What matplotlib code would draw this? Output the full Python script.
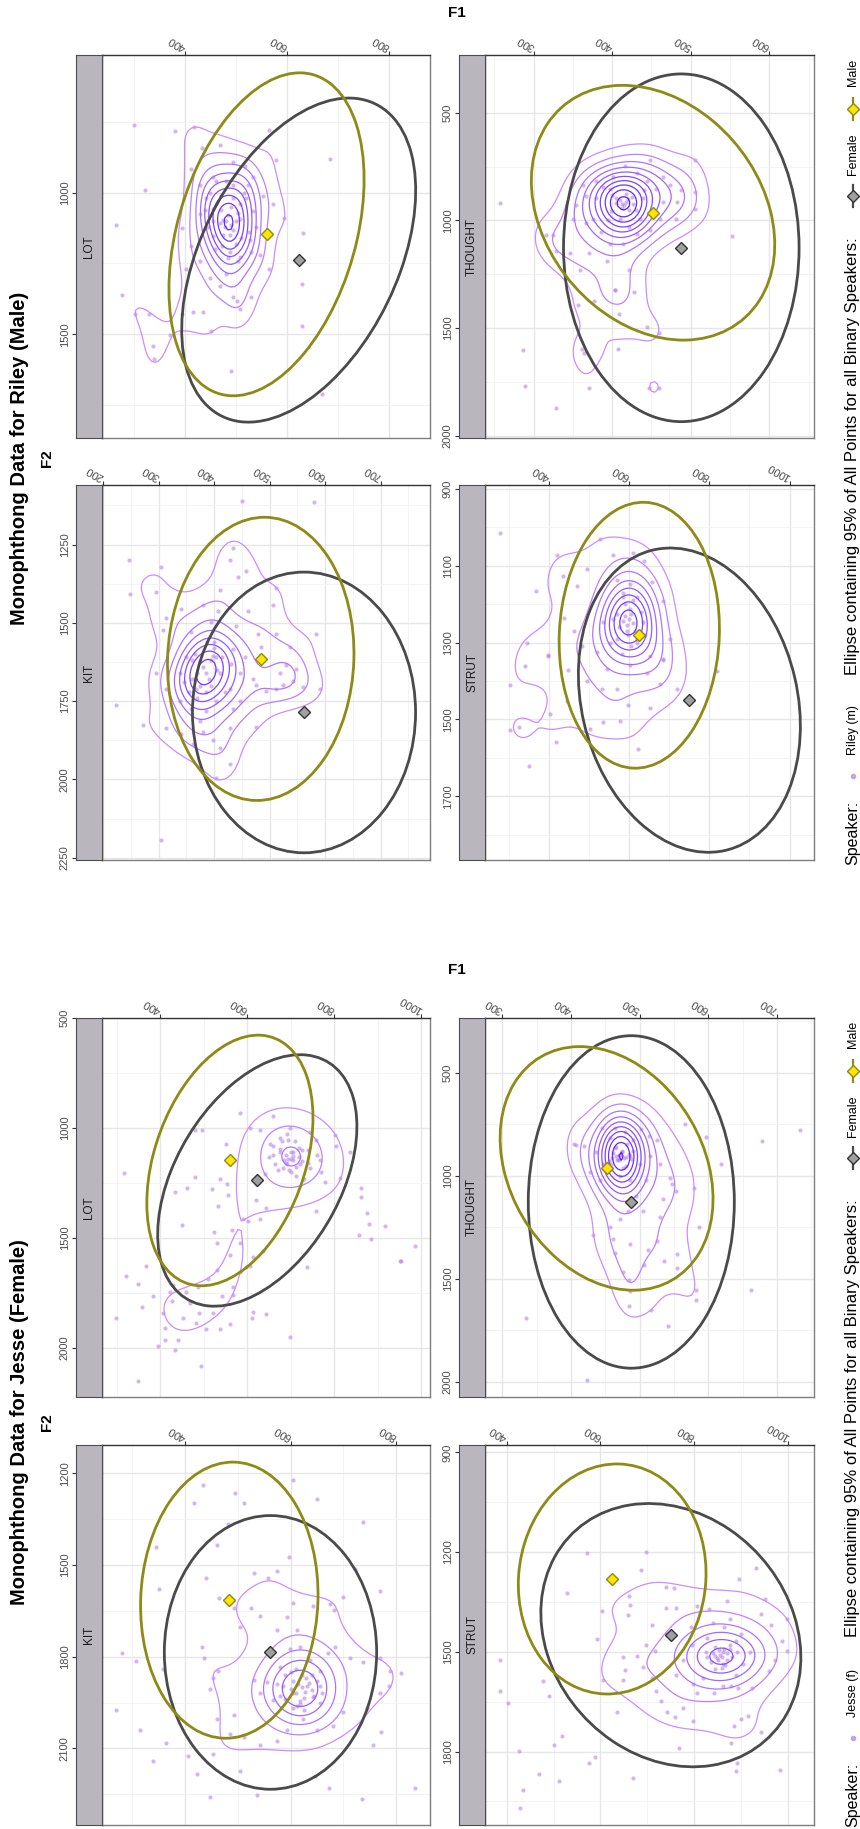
import numpy as np
import matplotlib
matplotlib.use('Agg')
import matplotlib.pyplot as plt
from matplotlib.patches import Ellipse
from matplotlib.colors import LinearSegmentedColormap, Normalize
from matplotlib.ticker import MaxNLocator
from matplotlib.lines import Line2D

plt.rcParams['font.family'] = ['Liberation Sans', 'DejaVu Sans']

# ---------------- data ----------------
speakers = ['Riley (m)', 'Jesse (f)']
titles = ['Monophthong Data for Riley (Male)', 'Monophthong Data for Jesse (Female)']
vowels = ['KIT', 'LOT', 'STRUT', 'THOUGHT']

# binary-speaker reference means (diamonds) and 95% ellipse spreads, order = vowels
male_mean_f1 = [484, 560, 625, 452]
male_mean_f2 = [1615, 1147, 1281, 964]
female_mean_f1 = [562, 623, 750, 488]
female_mean_f2 = [1786, 1238, 1450, 1127]
male_ell_f1_half = [168, 191, 200, 155]
male_ell_f2_half = [452, 570, 346, 592]
male_ell_corr = [-0.04, -0.34, -0.05, 0.25]
female_ell_f1_half = [201, 229, 277, 150]
female_ell_f2_half = [448, 572, 396, 808]
female_ell_corr = [0.0, -0.43, 0.17, 0.0]

# tick labels per speaker / vowel
riley_f1_ticks = {'KIT': [200, 300, 400, 500, 600, 700], 'LOT': [400, 600, 800],
                  'STRUT': [400, 600, 800, 1000], 'THOUGHT': [300, 400, 500, 600]}
riley_f2_ticks = {'KIT': [1250, 1500, 1750, 2000, 2250], 'LOT': [1000, 1500],
                  'STRUT': [900, 1100, 1300, 1500, 1700], 'THOUGHT': [500, 1000, 1500, 2000]}
jesse_f1_ticks = {'KIT': [400, 600, 800], 'LOT': [400, 600, 800, 1000],
                  'STRUT': [400, 600, 800, 1000], 'THOUGHT': [300, 400, 500, 600, 700]}
jesse_f2_ticks = {'KIT': [1200, 1500, 1800, 2100], 'LOT': [500, 1000, 1500, 2000],
                  'STRUT': [900, 1200, 1500, 1800], 'THOUGHT': [500, 1000, 1500, 2000]}

# speaker tokens (F1, F2)
riley_lot = [(300,761),(380,783),(418,769),(266,1115),(322,991),(278,1360),(302,1427),(330,1427),
    (337,1543),(340,1586),(371,1501),(394,1125),(429,973),(412,917),(434,843),(468,832),(490,1630),
    (495,1367),(502,1382),(508,1412),(529,1367),(565,777),(579,884),(632,1144),(629,1323),(629,1472),
    (684,882),(669,1711),(594,1089),(573,1040),(565,1271),(548,1219),(452,1490),(455,1059),(481,1099),
    (491,1114),(508,1040),(524,973),(534,943),(517,907),(495,892),(462,959),(442,1018),(429,1077),
    (455,1152),(472,1189),(488,1211),(508,1226),(527,1167),(481,1286),(468,1330),(449,1301),(429,1241),
    (413,1189),(403,1271),(416,1420),(394,1427),(436,1420),(508,1092),(495,1018),(534,1063),(553,1011),
    (455,944),(495,973),(468,1107),(485,1080),(478,1120),(495,1130),(470,1060),(500,1100),(488,1150),
    (475,1095),(505,1070),(450,1000),(470,1010),(520,1020),(540,1120),(445,1120),(460,1200),(500,1180),
    (530,1210),(515,1000),(480,960),(505,1240),(440,1060),(525,1140),(485,1230),(455,1100),(510,1160),
    (490,1050),(475,1150)]
riley_kit = [(246,1299),(304,1321),(248,1409),(296,1402),(434,1260),(450,1112),(580,1115),(428,1300),
    (443,1355),(458,1334),(410,1395),(380,1443),(341,1456),(314,1483),(395,1496),(440,1510),(461,1463),
    (479,1537),(506,1443),(512,1388),(511,1537),(584,1537),(536,1578),(485,1578),(434,1585),(398,1605),
    (308,1523),(359,1530),(407,1463),(224,1761),(272,1825),(304,2193),(296,1660),(314,1710),(338,1660),
    (338,1749),(359,1774),(374,1812),(380,1850),(398,1875),(410,1901),(428,1837),(434,1774),(446,1749),
    (476,1698),(476,1831),(494,1717),(512,1710),(524,1698),(542,1685),(560,1704),(590,1710),(530,1634),
    (548,1647),(518,1660),(374,1622),(386,1660),(404,1609),(350,1609),(368,1710),(404,1749),(428,1710),
    (446,1660),(314,1837),(341,1856),(362,1888),(428,1951),(404,1996),(380,1640),(390,1680),(375,1700),
    (395,1620),(370,1660),(405,1650),(385,1720),(365,1600),(400,1580),(415,1610),(360,1680),(388,1560),
    (360,1620),(395,1700),(410,1660),(370,1740),(345,1690),(420,1720),(400,1560),(430,1630),(385,1780),
    (355,1720),(455,1610),(470,1680)]
riley_thought = [(257,919),(286,1603),(289,1771),(329,1873),(316,1067),(324,1067),(329,1143),(357,1394),
    (377,1374),(362,1599),(364,1615),(370,1779),(407,1599),(409,1433),(404,1325),(428,1331),(444,1496),
    (460,1521),(447,1779),(460,1779),(505,719),(505,866),(506,948),(481,993),(487,860),(553,1071),
    (354,930),(367,885),(380,895),(388,846),(401,797),(416,748),(431,778),(444,817),(456,856),(465,915),
    (461,993),(448,1042),(435,993),(422,1032),(410,993),(399,954),(405,895),(418,876),(427,924),(412,924),
    (431,1061),(414,1110),(397,1110),(386,1052),(376,993),(367,1012),(393,1188),(404,1321),(422,1228),
    (371,1149),(380,817),(363,836),(439,895),(397,856),(448,719),(465,797),(473,836),(482,915),(350,993),
    (346,1149),(359,1228),(418,915),(420,900),(415,930),(410,905),(425,890),(412,940),(422,950),(405,920),
    (430,950),(400,880),(440,860),(395,1000)]
riley_strut = [(278,1014),(368,1167),(434,1128),(419,1071),(469,1154),(494,1108),(527,1030),(559,1071),
    (610,1066),(637,1088),(656,1143),(685,1192),(702,1291),(685,1346),(652,1335),(602,1148),(585,1181),
    (569,1225),(594,1269),(619,1302),(635,1247),(602,1214),(552,1302),(535,1247),(519,1324),(481,1308),
    (436,1236),(461,1269),(398,1335),(344,1302),(569,1137),(619,1181),(581,1330),(339,1361),(303,1411),
    (302,1527),(326,1520),(351,1622),(398,1333),(417,1560),(446,1372),(402,1485),(444,1452),(502,1524),
    (535,1507),(577,1504),(597,1462),(622,1576),(652,1471),(677,1409),(718,1421),(685,1344),(644,1380),
    (602,1359),(569,1421),(531,1421),(494,1400),(544,1370),(820,1375),(600,1240),(605,1225),(595,1255),
    (610,1250),(590,1230),(615,1270),(598,1280),(585,1245),(590,1200),(620,1290),(575,1260),(630,1220),
    (605,1310),(560,1240),(640,1280),(585,1170),(610,1190),(570,1290)]
jesse_lot = [(316,1202),(583,933),(480,1010),(497,1010),(552,1073),(480,1221),(434,1292),(461,1274),
    (518,1279),(537,1231),(553,1253),(555,1303),(533,1353),(451,1441),(523,1472),(565,1463),(583,1522),
    (602,1424),(629,1415),(621,1253),(606,1001),(652,1073),(675,1046),(692,1028),(706,1109),(721,1163),
    (683,1181),(713,1217),(744,1181),(767,1145),(804,1082),(836,1109),(813,1226),(779,1244),(759,1378),
    (861,1274),(861,1315),(875,1387),(880,1438),(856,1486),(884,1505),(916,1447),(985,1535),(953,1603),
    (738,1630),(694,1055),(706,1145),(691,1163),(675,1109),(725,1100),(698,1001),(664,1163),(660,947),
    (629,1010),(744,1019),(759,1055),(802,1033),(621,1325),(644,1361),(591,1415),(637,1558),(614,1585),
    (598,1630),(560,1576),(530,1522),(299,1864),(348,2149),(366,1629),(321,1674),(348,1709),(359,1813),
    (383,1763),(406,1839),(411,1909),(395,1990),(411,1965),(434,2010),(440,1965),(453,1864),(426,1788),
    (468,1797),(483,1886),(489,1842),(506,1914),(522,1839),(537,1914),(560,1889),(541,1763),(568,1758),
    (610,1864),(614,1835),(644,1847),(493,2082),(698,1951),(951,1604),(422,1746),(430,1713),(460,1746),
    (487,1721),(510,1688),(530,1646),(568,1721),(583,1654),(606,1629),(660,1080),(690,1120),(720,1090),
    (740,1160),(700,1200),(670,1190),(650,1130),(760,1120),(730,1230),(680,1060),(710,1060),(640,1210),
    (770,1200),(700,1140),(690,1160),(720,1130),(694,1140),(705,1125),(700,1110),(685,1145),(712,1175),
    (675,1095),(725,1150),(695,1190),(660,1120),(740,1100)]
jesse_kit = [(435,1237),(495,1263),(417,1297),(511,1298),(605,1221),(651,1285),(481,1366),(738,1360),
    (346,1440),(461,1434),(597,1473),(350,1577),(439,1542),(574,1518),(558,1542),(530,1527),(465,1608),
    (722,1514),(770,1585),(700,1605),(675,1627),(682,1648),(643,1635),(605,1623),(594,1669),(492,1642),
    (504,1702),(526,1639),(542,1666),(574,1714),(612,1714),(432,1768),(436,1805),(308,1813),(281,1789),
    (359,1839),(463,1847),(454,1871),(448,1907),(460,2004),(492,1992),(530,1877),(555,1883),(580,1835),
    (599,1774),(618,1768),(636,1811),(655,1847),(671,1787),(684,1768),(713,1805),(738,1817),(770,1805),
    (789,1847),(809,1853),(786,1895),(770,1919),(744,1967),(700,1980),(681,2028),(650,2040),(624,2004),
    (605,1967),(594,2040),(574,2076),(542,2089),(511,2064),(485,2052),(454,2119),(422,2185),(406,2125),
    (365,2083),(340,2143),(315,2040),(270,1974),(447,2258),(536,2252),(735,2266),(836,2231),(672,2231),
    (647,2191),(504,2173),(757,2089),(772,2046),(621,1859),(631,1895),(643,1931),(605,1919),(618,1956),
    (655,1895),(586,1895),(567,1943),(542,1919),(621,1900),(615,1890),(628,1915),(610,1920),(635,1885),
    (625,1935),(605,1880),(640,1910),(618,1945),(600,1905),(645,1930),(630,1870),(590,1860),(650,1880),
    (612,1960),(580,1930),(600,1850),(640,1860),(660,1920),(590,1940),(625,1975),(610,1840),(655,1950),
    (575,1890)]
jesse_thought = [(404,847),(408,851),(419,857),(446,766),(464,769),(479,789),(502,773),(514,808),
    (530,942),(545,1009),(547,1038),(553,1073),(579,1057),(587,1250),(555,1381),(526,1317),(512,1360),
    (486,1333),(464,1375),(461,1308),(457,1250),(432,1288),(471,1212),(483,1173),(495,1096),(505,1173),
    (534,1115),(530,1202),(566,750),(597,812),(619,942),(678,833),(733,779),(467,923),(476,961),(459,942),
    (464,865),(482,846),(486,904),(472,1000),(501,942),(447,942),(437,884),(442,1019),(486,1019),(510,1019),
    (491,827),(457,817),(428,981),(515,904),(525,827),(335,1689),(423,1992),(476,1468),(485,1508),
    (485,1635),(517,1651),(541,1729),(555,1450),(582,1554),(582,1603),(663,1554),(486,1558),(506,1432),
    (535,1414),(470,900),(475,880),(468,920),(480,910),(462,890),(472,900),(478,915),(466,905),(484,895),
    (470,925),(460,915),(488,920),(475,885),(490,880),(455,930),(480,950),(465,860)]
jesse_strut = [(698,1199),(572,1204),(686,1255),(528,1322),(739,1305),(756,1308),(661,1332),(663,1358),
    (658,1389),(604,1377),(593,1463),(710,1420),(739,1369),(760,1369),(805,1363),(831,1371),(870,1347),
    (896,1280),(931,1249),(950,1341),(942,1386),(964,1419),(998,1400),(997,1499),(986,1469),(972,1524),
    (960,1558),(923,1608),(893,1608),(879,1602),(884,1724),(878,1774),(888,1858),(891,1836),(983,1856),
    (942,1741),(914,1693),(900,1702),(797,1708),(767,1789),(670,1880),(636,1680),(606,1586),(647,1586),
    (652,1555),(648,1517),(677,1513),(691,1546),(709,1580),(719,1619),(730,1647),(741,1680),(758,1697),
    (776,1669),(797,1597),(818,1580),(843,1552),(861,1536),(875,1491),(889,1469),(900,1447),(918,1502),
    (904,1536),(889,1569),(864,1491),(843,1513),(825,1502),(864,1424),(827,1458),(796,1480),(775,1524),
    (760,1569),(805,1624),(841,1624),(861,1602),(793,1424),(839,1413),(876,1402),(741,1447),(716,1497),
    (698,1480),(386,1524),(386,1617),(402,1654),(426,1797),(434,1916),(428,1971),(470,1869),(478,1588),
    (491,1633),(500,1780),(512,1889),(518,1752),(576,1836),(589,1816),(860,1515),(850,1525),(870,1505),
    (855,1510),(848,1520),(862,1500),(840,1505),(870,1525),(852,1495),(880,1515),(835,1530),(865,1540),
    (845,1485),(890,1500),(828,1515),(875,1480),(858,1550)]

tokens = {
    ('Riley (m)', 'KIT'): riley_kit, ('Riley (m)', 'LOT'): riley_lot,
    ('Riley (m)', 'STRUT'): riley_strut, ('Riley (m)', 'THOUGHT'): riley_thought,
    ('Jesse (f)', 'KIT'): jesse_kit, ('Jesse (f)', 'LOT'): jesse_lot,
    ('Jesse (f)', 'STRUT'): jesse_strut, ('Jesse (f)', 'THOUGHT'): jesse_thought,
}
f1_ticks = {'Riley (m)': riley_f1_ticks, 'Jesse (f)': jesse_f1_ticks}
f2_ticks = {'Riley (m)': riley_f2_ticks, 'Jesse (f)': jesse_f2_ticks}

# ---------------- layout (pixels, y from top) ----------------
W, H, DPI = 860, 1829, 100
STRIP = 26
panel_rect = {
    'Riley (m)': {'LOT': (102, 55, 430, 438), 'THOUGHT': (485, 55, 814, 438),
                  'KIT': (102, 485, 430, 860), 'STRUT': (485, 485, 814, 860)},
    'Jesse (f)': {'LOT': (102, 1018, 430, 1397), 'THOUGHT': (485, 1018, 814, 1397),
                  'KIT': (102, 1445, 430, 1825), 'STRUT': (485, 1445, 814, 1825)},
}
panel_lims = {  # (F1 min, F1 max), (F2 top, F2 bottom)
    'Riley (m)': {'LOT': ((238, 880), (514, 1866)), 'KIT': ((198, 789), (1060, 2257)),
                  'THOUGHT': ((238, 657), (231, 2011)), 'STRUT': ((240, 1061), (890, 1866))},
    'Jesse (f)': {'LOT': ((266, 1020), (499, 2223)), 'KIT': ((243, 864), (1107, 2351)),
                  'THOUGHT': ((275, 754), (233, 2075)), 'STRUT': ((354, 1055), (878, 2021))},
}
contour_bins = {'Riley (m)': 15, 'Jesse (f)': 14}
half_center = {'Riley (m)': 458, 'Jesse (f)': 1422}
f1_label_y = {'Riley (m)': 13, 'Jesse (f)': 970}
legend_offset = {'Riley (m)': 0, 'Jesse (f)': 962}

MALE_COL = '#8E8A16'
FEMALE_COL = '#4A4A4A'
PT_COL = '#B784E8'
TICK_FS = 8
cmap = LinearSegmentedColormap.from_list('dens', ['#C98DFF', '#5A1CF2'])

fig = plt.figure(figsize=(W / DPI, H / DPI), dpi=DPI)
fig.patch.set_facecolor('white')


def fbox(x0, y0, x1, y1):
    return [x0 / W, 1 - y1 / H, (x1 - x0) / W, (y1 - y0) / H]


def bw_nrd(v):
    v = np.asarray(v, float)
    q1, q3 = np.percentile(v, [25, 75])
    return 4 * 1.06 * min(np.std(v, ddof=1), (q3 - q1) / 1.34) * len(v) ** (-0.2)


def kde2d(x, y, xlim, ylim, n=100):
    hx, hy = bw_nrd(x) / 4, bw_nrd(y) / 4
    gx = np.linspace(xlim[0], xlim[1], n)
    gy = np.linspace(ylim[0], ylim[1], n)
    ex = np.exp(-0.5 * ((gx[:, None] - x[None, :]) / hx) ** 2)
    ey = np.exp(-0.5 * ((gy[:, None] - y[None, :]) / hy) ** 2)
    z = ex @ ey.T / (len(x) * 2 * np.pi * hx * hy)
    return gx, gy, z.T


def minor_between(ticks, lo, hi):
    step = ticks[1] - ticks[0]
    m = np.arange(ticks[0] - step / 2, hi + step, step)
    return [v for v in m if lo <= v <= hi]


def cov_ellipse(c1, c2, h1, h2, r, color):
    cov = np.array([[h1 * h1, r * h1 * h2], [r * h1 * h2, h2 * h2]])
    vals, vecs = np.linalg.eigh(cov)
    ang = np.degrees(np.arctan2(vecs[1, 1], vecs[0, 1]))
    return Ellipse((c1, c2), 2 * np.sqrt(vals[1]), 2 * np.sqrt(vals[0]), angle=ang,
                   fill=False, ec=color, lw=2.0, zorder=4)


for si, spk in enumerate(speakers):
    dens = {}
    for v in vowels:
        arr = np.array(tokens[(spk, v)], float)
        (xl, yl) = panel_lims[spk][v]
        dens[v] = kde2d(arr[:, 0], arr[:, 1], xl, yl)
    zmax = max(d[2].max() for d in dens.values())
    levels = [l for l in MaxNLocator(nbins=contour_bins[spk], steps=[1, 2, 5, 10]).tick_values(0, zmax)
              if 0 < l < zmax]
    norm = Normalize(vmin=levels[0], vmax=levels[-1])

    for vi, v in enumerate(vowels):
        x0, y0, x1, y1 = panel_rect[spk][v]
        (xl, yl) = panel_lims[spk][v]
        ax = fig.add_axes(fbox(x0, y0, x1, y1))
        ax.set_xlim(*xl)
        ax.set_ylim(yl[1], yl[0])
        xt = f1_ticks[spk][v]
        yt = f2_ticks[spk][v]
        ax.set_xticks(xt)
        ax.set_xticks(minor_between(xt, *xl), minor=True)
        ax.set_yticks(yt)
        ax.set_yticks(minor_between(yt, *yl), minor=True)
        ax.grid(which='major', color='#E6E6E6', lw=1.0)
        ax.grid(which='minor', color='#F2F2F2', lw=0.6)
        ax.set_axisbelow(True)
        ax.xaxis.set_ticks_position('top')
        ax.tick_params(axis='x', which='major', length=3, width=0.8, color='#333333', pad=2,
                       labelsize=TICK_FS, labelcolor='#4D4D4D')
        ax.tick_params(which='minor', length=0)
        ax.tick_params(axis='y', which='both', left=False, labelleft=False)
        ax.set_xticklabels([str(t) for t in xt])
        for lab in ax.get_xticklabels():
            lab.set_rotation(150)
            lab.set_rotation_mode('anchor')
            lab.set_ha('left')
            lab.set_va('center')
        for side in ['top', 'left']:
            ax.spines[side].set_color('#333333')
            ax.spines[side].set_linewidth(1.0)
        for side in ['right', 'bottom']:
            ax.spines[side].set_color('#7F7F7F')
            ax.spines[side].set_linewidth(1.0)

        sec = ax.secondary_yaxis(-STRIP / (x1 - x0))
        sec.set_yticks(yt)
        sec.set_yticklabels([str(t) for t in yt])
        sec.spines['left'].set_visible(False)
        sec.tick_params(length=3, width=0.8, color='#333333', pad=1.5, labelsize=TICK_FS,
                        labelcolor='#4D4D4D')
        for lab in sec.get_yticklabels():
            lab.set_rotation(90)
            lab.set_va('center')
            lab.set_ha('right')

        sax = fig.add_axes(fbox(x0 - STRIP, y0, x0, y1))
        sax.set_facecolor('#B9B6BE')
        sax.set_xticks([])
        sax.set_yticks([])
        for s in sax.spines.values():
            s.set_color('#4D4D4D')
            s.set_linewidth(0.8)
        sax.text(0.5, 0.5, v, rotation=90, ha='center', va='center', fontsize=8.5,
                 color='#1A1A1A', transform=sax.transAxes)

        arr = np.array(tokens[(spk, v)], float)
        ax.scatter(arr[:, 0], arr[:, 1], s=9, c=PT_COL, alpha=0.6, lw=0, zorder=2)
        gx, gy, z = dens[v]
        ax.contour(gx, gy, z, levels=levels, cmap=cmap, norm=norm, linewidths=0.9, zorder=3)

        ax.add_patch(cov_ellipse(female_mean_f1[vi], female_mean_f2[vi], female_ell_f1_half[vi],
                                 female_ell_f2_half[vi], female_ell_corr[vi], FEMALE_COL))
        ax.add_patch(cov_ellipse(male_mean_f1[vi], male_mean_f2[vi], male_ell_f1_half[vi],
                                 male_ell_f2_half[vi], male_ell_corr[vi], MALE_COL))
        ax.plot([female_mean_f1[vi]], [female_mean_f2[vi]], marker='D', ms=6.5, mfc='#A0A0A0',
                mec='#333333', mew=1.0, ls='none', zorder=5)
        ax.plot([male_mean_f1[vi]], [male_mean_f2[vi]], marker='D', ms=6.5, mfc='#FFE500',
                mec=MALE_COL, mew=1.0, ls='none', zorder=5)

    fig.text(20 / W, 1 - half_center[spk] / H, titles[si], rotation=90, ha='center', va='center',
             fontsize=14.5, fontweight='bold')
    fig.text(47 / W, 1 - half_center[spk] / H, 'F2', rotation=90, ha='center', va='center',
             fontsize=11, fontweight='bold')
    fig.text(448 / W, 1 - f1_label_y[spk] / H, 'F1', ha='left', va='center', fontsize=11,
             fontweight='bold')

    off = legend_offset[spk]
    LX = 853 / W

    def ly(p):
        return 1 - (p + off) / H

    fig.text(LX, ly(865), 'Speaker:', rotation=90, ha='center', va='bottom', fontsize=11.5)
    fig.add_artist(Line2D([LX], [ly(776)], marker='o', ms=3, color=PT_COL, alpha=0.7, ls='none',
                          transform=fig.transFigure))
    fig.text(LX, ly(755), spk, rotation=90, ha='center', va='bottom', fontsize=9)
    fig.text(LX, ly(675), 'Ellipse containing 95% of All Points for all Binary Speakers:',
             rotation=90, ha='center', va='bottom', fontsize=12)
    fig.add_artist(Line2D([LX, LX, LX], [ly(207), ly(196), ly(185)], color=FEMALE_COL, lw=1.6,
                          marker='D', markevery=[1], ms=6, mfc='#A0A0A0', mec='#333333',
                          transform=fig.transFigure))
    fig.text(LX, ly(175), 'Female', rotation=90, ha='center', va='bottom', fontsize=9)
    fig.add_artist(Line2D([LX, LX, LX], [ly(120), ly(109), ly(98)], color=MALE_COL, lw=1.6,
                          marker='D', markevery=[1], ms=6, mfc='#FFE500', mec=MALE_COL,
                          transform=fig.transFigure))
    fig.text(LX, ly(86), 'Male', rotation=90, ha='center', va='bottom', fontsize=9)

fig.savefig('out.png', dpi=DPI, facecolor='white')
